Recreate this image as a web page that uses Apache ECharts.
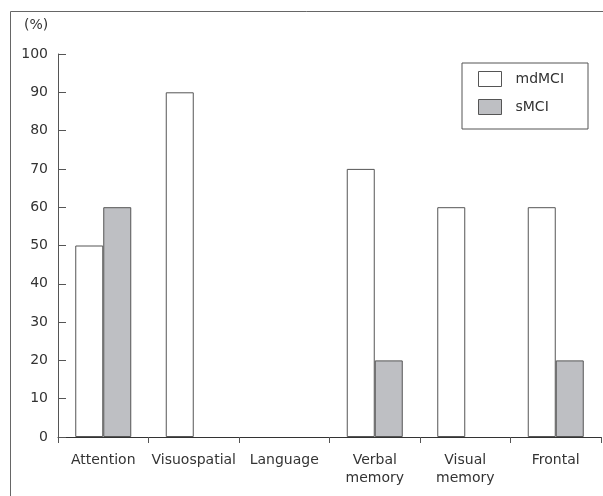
<!DOCTYPE html>
<html><head><meta charset="utf-8">
<script src="https://cdn.jsdelivr.net/npm/echarts@6/dist/echarts.min.js"></script>
<style>html,body{margin:0;padding:0;background:#fff}#c{width:603px;height:496px}</style>
</head><body><div id="c"></div>
<script>
var categories = ['Attention', 'Visuospatial', 'Language', 'Verbal\nmemory', 'Visual\nmemory', 'Frontal'];
var mdMCI = [50, 90, 0, 70, 60, 60];
var sMCI = [60, 0, 0, 20, 0, 20];
var yTicks = [0, 100, 10];
var font = 'DejaVu Sans';
function barData(arr) {
  return arr.map(function (v) { return v === 0 ? { value: 0, itemStyle: { borderWidth: 0 } } : v; });
}
var chart = echarts.init(document.getElementById('c'));
chart.setOption({
  animation: false,
  backgroundColor: '#fff',
  textStyle: { fontFamily: font },
  grid: { left: 58, right: 2, top: 54, bottom: 59 },
  graphic: [
    { type: 'line', shape: { x1: 10.5, y1: 11.5, x2: 603, y2: 11.5 }, style: { stroke: '#666', lineWidth: 1 } },
    { type: 'line', shape: { x1: 10.5, y1: 11.5, x2: 10.5, y2: 496 }, style: { stroke: '#666', lineWidth: 1 } },
    { type: 'text', left: 24, top: 18, style: { text: '(%)', font: '14px ' + font, fill: '#333' } }
  ],
  legend: {
    orient: 'vertical', left: 462, top: 63,
    padding: [8, 24, 14, 16], itemGap: 12,
    itemWidth: 23, itemHeight: 15,
    borderColor: '#555', borderWidth: 1,
    textStyle: { fontFamily: font, fontSize: 14, color: '#333', padding: [0, 0, 0, 9] },
    data: [
      { name: 'mdMCI', icon: 'rect', itemStyle: { color: '#fff', borderColor: '#555', borderWidth: 1 } },
      { name: 'sMCI', icon: 'rect', itemStyle: { color: '#bebfc3', borderColor: '#555', borderWidth: 1 } }
    ]
  },
  xAxis: {
    type: 'category', data: categories,
    axisLine: { lineStyle: { color: '#333', width: 1 } },
    axisTick: { show: true, inside: false, length: 6, lineStyle: { color: '#555' } },
    axisLabel: { fontFamily: font, fontSize: 14, color: '#333', margin: 14, lineHeight: 18, interval: 0 }
  },
  yAxis: {
    type: 'value', min: yTicks[0], max: yTicks[1], interval: yTicks[2],
    splitLine: { show: false },
    axisLine: { show: true, lineStyle: { color: '#555', width: 1 } },
    axisTick: { show: true, inside: true, length: 8, lineStyle: { color: '#555' } },
    axisLabel: { fontFamily: font, fontSize: 14, color: '#333', margin: 10 }
  },
  series: [
    { name: 'mdMCI', type: 'bar', data: barData(mdMCI), barWidth: 28, barGap: '0%',
      itemStyle: { color: '#fff', borderColor: '#555', borderWidth: 1 } },
    { name: 'sMCI', type: 'bar', data: barData(sMCI), barWidth: 28, barGap: '0%',
      itemStyle: { color: '#bebfc3', borderColor: '#555', borderWidth: 1 } }
  ]
});
</script></body></html>
